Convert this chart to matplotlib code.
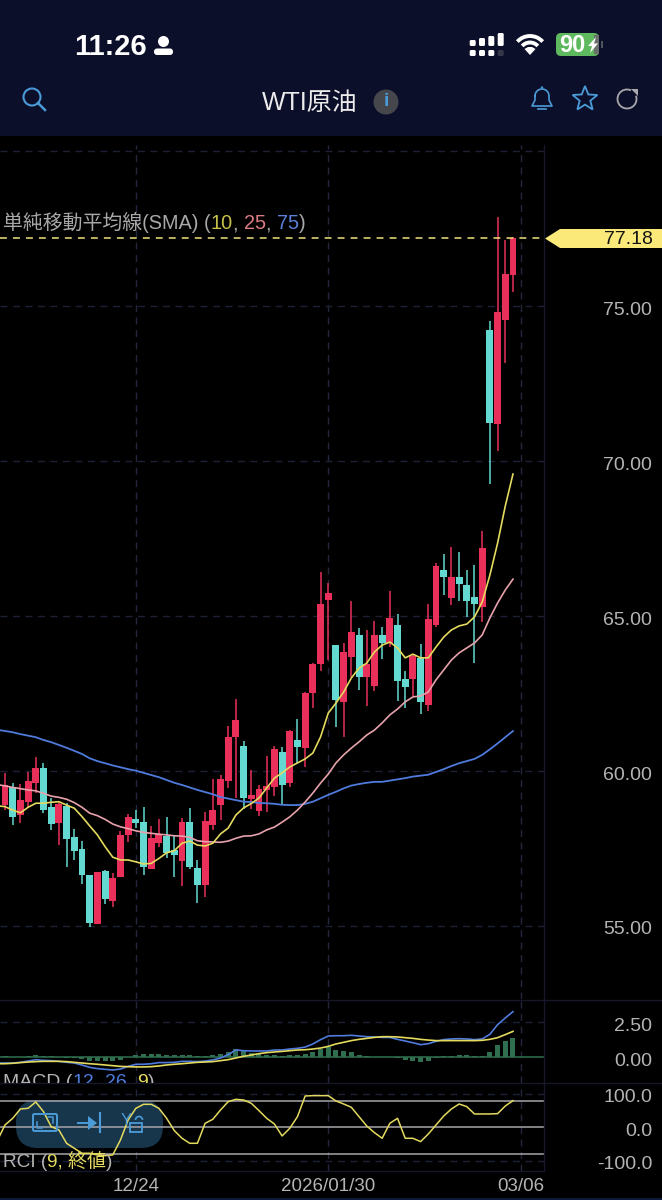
# -*- coding=utf8 =*-

import matplotlib
matplotlib.use("Agg")
import matplotlib.pyplot as plt
from matplotlib.patches import Arc, Circle, FancyBboxPatch, Polygon, Rectangle
from matplotlib.transforms import ScaledTranslation
import numpy as np

plt.rcParams['font.family'] = ['Liberation Sans', 'Noto Sans CJK JP', 'DejaVu Sans']

# daily candles
opens = [58.90, 59.48, 58.58, 59.00, 59.61, 60.10, 58.84, 58.32, 58.87, 57.87,
         57.48, 56.65, 55.06, 56.77, 55.81, 56.58, 57.94, 58.45, 58.35, 56.84,
         57.68, 57.90, 57.45, 57.10, 58.35, 56.87, 56.32, 58.26, 58.90, 59.68,
         61.10, 60.81, 59.10, 58.71, 59.39, 59.48, 60.61, 59.61, 61.00, 60.74,
         62.52, 63.45, 65.52, 64.06, 62.23, 63.68, 64.39, 63.03, 62.74, 64.39,
         64.13, 64.71, 62.97, 62.97, 63.65, 62.13, 64.71, 66.48, 65.58, 66.26,
         66.00, 65.61, 65.29, 74.23, 71.19, 74.55, 76.00]
highs = [59.94, 59.61, 59.58, 59.97, 60.45, 60.26, 59.13, 59.00, 58.97, 58.13,
         57.74, 56.65, 56.74, 56.81, 56.71, 58.06, 58.61, 58.74, 58.84, 58.23,
         58.45, 58.52, 57.90, 58.48, 58.81, 57.13, 58.68, 59.74, 59.87, 61.45,
         62.32, 60.97, 60.03, 59.55, 60.48, 60.81, 60.77, 61.32, 61.68, 62.55,
         63.48, 66.42, 66.06, 64.06, 64.13, 65.48, 64.61, 64.55, 64.84, 64.65,
         65.81, 65.06, 63.23, 63.77, 64.10, 65.39, 66.71, 67.00, 67.23, 67.06,
         66.48, 66.65, 67.74, 74.52, 77.87, 77.13, 77.23]
lows = [58.74, 58.26, 58.32, 58.81, 59.29, 58.65, 58.10, 57.61, 56.90, 57.13,
        56.35, 54.97, 55.06, 55.71, 55.61, 56.58, 57.71, 58.16, 56.65, 56.84,
        57.55, 57.19, 56.58, 56.29, 56.84, 55.74, 55.94, 58.10, 58.42, 59.45,
        59.13, 58.77, 58.77, 58.55, 58.68, 59.19, 58.94, 59.48, 60.26, 60.13,
        62.03, 63.23, 63.58, 61.42, 61.10, 63.03, 62.61, 62.10, 62.58, 63.61,
        64.00, 62.26, 62.03, 62.42, 61.84, 61.94, 64.65, 65.68, 65.35, 65.48,
        64.97, 63.48, 64.81, 69.26, 70.32, 73.16, 75.45]
closes = [59.55, 58.52, 59.06, 59.68, 60.10, 58.74, 58.29, 58.94, 57.81, 57.42,
          56.65, 55.10, 56.74, 55.87, 56.55, 57.94, 58.52, 58.32, 56.90, 57.84,
          57.97, 57.35, 57.29, 58.35, 56.90, 56.32, 58.39, 58.74, 59.74, 61.10,
          61.65, 59.13, 59.23, 59.42, 59.52, 60.71, 59.55, 61.29, 60.77, 62.52,
          63.45, 65.39, 65.74, 62.29, 63.84, 64.48, 63.03, 63.45, 64.39, 64.13,
          64.94, 62.90, 62.71, 63.71, 62.23, 64.90, 66.61, 66.26, 66.26, 66.03,
          65.48, 65.39, 67.19, 71.23, 74.81, 76.03, 77.18]

# the line series start one day before the first whole candle (off the left edge)
sma10 = [58.88, 58.85, 58.74, 58.65, 58.83, 58.96, 58.96, 58.99, 59.01, 58.90, 58.80,
         58.53, 58.23, 57.94, 57.56, 57.22, 57.13, 57.13, 57.07, 57.00, 57.02,
         57.18, 57.36, 57.43, 57.67, 57.74, 57.61, 57.58, 57.67, 57.97, 58.16,
         58.58, 58.81, 58.95, 59.13, 59.45, 59.77, 59.94, 60.13, 60.26, 60.39,
         60.58, 61.10, 61.87, 62.19, 62.55, 63.00, 63.32, 63.48, 63.84, 64.06,
         64.16, 63.97, 63.65, 63.77, 63.65, 63.65, 64.00, 64.32, 64.55, 64.68,
         64.74, 64.97, 65.45, 66.32, 67.35, 68.55, 69.58]
sma25 = [59.56, 59.52, 59.47, 59.43, 59.39, 59.36, 59.28, 59.19, 59.15, 59.09, 58.98,
         58.83, 58.64, 58.56, 58.44, 58.29, 58.20, 58.14, 58.07, 58.02, 57.99,
         57.96, 57.94, 57.91, 57.90, 57.86, 57.75, 57.72, 57.71, 57.70, 57.74,
         57.83, 57.90, 57.91, 57.97, 58.10, 58.19, 58.35, 58.52, 58.74, 59.00,
         59.29, 59.61, 59.90, 60.26, 60.52, 60.74, 60.94, 61.16, 61.32, 61.55,
         61.81, 62.00, 62.23, 62.39, 62.42, 62.55, 62.94, 63.26, 63.58, 63.81,
         63.97, 64.13, 64.39, 64.94, 65.42, 65.84, 66.19]
sma75 = [61.33, 61.29, 61.25, 61.19, 61.14, 61.09, 61.00, 60.93, 60.84, 60.75, 60.65,
         60.55, 60.41, 60.32, 60.25, 60.18, 60.12, 60.06, 60.01, 59.94, 59.87,
         59.80, 59.71, 59.62, 59.55, 59.47, 59.39, 59.32, 59.25, 59.16, 59.11,
         59.06, 59.01, 59.00, 58.97, 58.96, 58.94, 58.91, 58.90, 58.90, 58.94,
         59.01, 59.12, 59.23, 59.33, 59.44, 59.53, 59.58, 59.62, 59.65, 59.65,
         59.69, 59.73, 59.77, 59.82, 59.85, 59.88, 59.97, 60.06, 60.16, 60.25,
         60.32, 60.39, 60.52, 60.70, 60.89, 61.09, 61.29]

macd_line = [-0.43, -0.43, -0.43, -0.38, -0.29, -0.19, -0.24, -0.26, -0.31, -0.38, -0.43,
             -0.57, -0.74, -0.83, -0.88, -0.93, -0.86, -0.67, -0.52, -0.52, -0.48,
             -0.40, -0.40, -0.38, -0.31, -0.31, -0.33, -0.29, -0.21, -0.07, 0.17,
             0.50, 0.45, 0.43, 0.43, 0.43, 0.50, 0.50, 0.57, 0.62, 0.71,
             0.93, 1.24, 1.50, 1.52, 1.52, 1.55, 1.50, 1.45, 1.43, 1.40,
             1.40, 1.26, 1.14, 1.02, 0.88, 0.95, 1.12, 1.24, 1.29, 1.31,
             1.29, 1.24, 1.29, 1.62, 2.31, 2.79, 3.24]
macd_signal = [-0.48, -0.48, -0.45, -0.40, -0.36, -0.33, -0.31, -0.31, -0.31, -0.33, -0.38,
               -0.43, -0.48, -0.52, -0.57, -0.62, -0.67, -0.69, -0.71, -0.71, -0.69,
               -0.64, -0.57, -0.52, -0.48, -0.43, -0.38, -0.36, -0.33, -0.26, -0.19,
               -0.07, 0.05, 0.14, 0.24, 0.31, 0.36, 0.40, 0.45, 0.50, 0.52,
               0.57, 0.64, 0.76, 0.93, 1.05, 1.17, 1.26, 1.33, 1.40, 1.45,
               1.45, 1.43, 1.38, 1.33, 1.26, 1.21, 1.17, 1.17, 1.17, 1.17,
               1.17, 1.17, 1.19, 1.26, 1.38, 1.60, 1.83]
macd_hist = [0.05, 0.02, 0.02, 0.07, 0.14, 0.07, 0.05, 0.00, -0.05, -0.05,
             -0.14, -0.26, -0.31, -0.31, -0.31, -0.19, 0.02, 0.14, 0.19, 0.20,
             0.22, 0.17, 0.14, 0.17, 0.12, 0.05, 0.07, 0.12, 0.20, 0.36,
             0.55, 0.40, 0.29, 0.19, 0.12, 0.14, 0.10, 0.12, 0.12, 0.19,
             0.36, 0.60, 0.74, 0.50, 0.43, 0.38, 0.17, 0.05, 0.02, -0.02,
             -0.02, -0.10, -0.24, -0.30, -0.36, -0.26, -0.05, 0.05, 0.10, 0.14,
             0.12, 0.05, 0.10, 0.36, 0.85, 1.14, 1.38]

rci = [-40, 7, 27, 55, 57, 76, 47, 2, -8, -48, -63,
       -78, -78, -83, -85, -83, -38, 22, 57, 69, 69,
       57, 27, -10, -33, -48, -48, 12, 24, 52, 77,
       84, 82, 72, 50, 27, 10, -26, -3, 32, 94,
       95, 95, 95, 79, 70, 60, 32, 4, -16, -33,
       12, 27, -33, -33, -43, -20, 7, 34, 55, 70,
       62, 40, 40, 40, 41, 64, 80]

date_positions = [17, 42, 67]
date_labels = ['12/24', '2026/01/30', '03/06']
price_ticks = [55, 60, 65, 70, 75]
price_grid = [55, 60, 65, 70, 75, 80]
macd_ticks = [0, 2.5]
rci_ticks = [-100, 0, 100]
rci_levels = [-80, 0, 80]

WIDTH, HEIGHT = 662, 1200
CHART_RIGHT = 544

RED = '#e8305a'
TEAL = '#63d9d1'
YELLOW = '#e4da5e'
PINK = '#e8a2ac'
BLUE = '#4f7bdc'
GRID = '#1e2036'
FRAME = '#15172b'
LABEL = '#b4b4b4'
ICON = '#4a9bd8'
HEADER = '#0c0f29'
TAG = '#fbe97a'


def add_axes_px(x0, y0, x1, y1):
    """pixel box (origin top left) -> axes"""
    ax = fig.add_axes([x0 / WIDTH, 1 - y1 / HEIGHT, (x1 - x0) / WIDTH, (y1 - y0) / HEIGHT])
    ax.set_facecolor('black')
    for spine in ax.spines.values():
        spine.set_visible(False)
    ax.set_xlim(-0.65, 70.03)
    ax.tick_params(length=0, bottom=False, left=False, labelbottom=False, labelleft=False)
    for pos in date_positions:
        ax.axvline(pos, color='#24263e', lw=1, ls=(0, (5, 4)), zorder=1)
    return ax


def right_labels(ax, ticks, fmt):
    ax.yaxis.tick_right()
    ax.set_yticks(ticks)
    ax.set_yticklabels([fmt.format(v) for v in ticks], fontsize=14, color=LABEL, ha='right')
    ax.tick_params(axis='y', length=0, pad=(652 - CHART_RIGHT) * 0.72, labelright=True)
    # the app draws its axis text about 2 px below the level
    shift = ScaledTranslation(0, -2 / 100, fig.dpi_scale_trans)
    for label in ax.get_yticklabels():
        label.set_transform(label.get_transform() + shift)


def colored_text(x, y, pieces, size, clip_ax=None):
    """text in several colours on one baseline"""
    renderer = fig.canvas.get_renderer()
    for s, color in pieces:
        t = over.text(x, y, s, color=color, fontsize=size, va='baseline', ha='left')
        if clip_ax is not None:
            t.set_clip_box(clip_ax.bbox)
            t.set_clip_on(True)
        x += t.get_window_extent(renderer).width


fig = plt.figure(figsize=(WIDTH / 100, HEIGHT / 100), dpi=100, facecolor='black')

# price panel
ax = add_axes_px(0, 145, CHART_RIGHT, 999)
ax.set_ylim(52.645, 80.194)
for level in price_grid:
    ax.axhline(level, color=GRID, lw=1, ls=(0, (5, 4)), zorder=1)
xs = np.arange(len(closes))
xs_line = np.arange(-1, len(closes))
o, h, l, c = map(np.array, (opens, highs, lows, closes))
colors = [RED if c[i] >= o[i] else TEAL for i in xs]
ax.vlines(xs, l, h, colors=colors, lw=1.1, zorder=2)
ax.bar(xs, np.abs(c - o), bottom=np.minimum(o, c), width=0.9, color=colors, zorder=3)
ax.plot(xs_line, sma75, color=BLUE, lw=1.3, zorder=4)
ax.plot(xs_line, sma25, color=PINK, lw=1.2, zorder=4)
ax.plot(xs_line, sma10, color=YELLOW, lw=1.2, zorder=4)
ax.axhline(closes[-1], color='#efe27a', lw=1.1, ls=(0, (4.5, 4)), zorder=5)
right_labels(ax, price_ticks, '{:.2f}')

# MACD
ax_macd = add_axes_px(0, 999, CHART_RIGHT, 1083)
ax_macd.set_ylim(-1.857, 4.143)
ax_macd.axhline(2.5, color=GRID, lw=1, ls=(0, (5, 4)), zorder=1)
ax_macd.axhline(0, color='#2f6f50', lw=1.1, zorder=2)
ax_macd.bar(xs, macd_hist, width=0.65, color='#2f6f50', zorder=2)
ax_macd.plot(xs_line, macd_line, color=BLUE, lw=1.2, zorder=3)
ax_macd.plot(xs_line, macd_signal, color=YELLOW, lw=1.2, zorder=3)
right_labels(ax_macd, macd_ticks, '{:.2f}')

# RCI
ax_rci = add_axes_px(0, 1083, CHART_RIGHT, 1171)
ax_rci.set_ylim(-131.2, 133)
for level in rci_ticks[::2]:
    ax_rci.axhline(level, color=GRID, lw=1, ls=(0, (5, 4)), zorder=1)
for level in rci_levels:
    ax_rci.axhline(level, color='#a6a6aa', lw=1.1, zorder=2)
ax_rci.plot(xs_line, rci, color=YELLOW, lw=1.1, zorder=3)
right_labels(ax_rci, rci_ticks, '{:.1f}')
ax_rci.set_xticks(date_positions)
ax_rci.set_xticklabels(date_labels, fontsize=13.5, color=LABEL)
ax_rci.tick_params(axis='x', length=0, pad=5, labelbottom=True)

# everything else is drawn in pixel coordinates
over = fig.add_axes([0, 0, 1, 1], facecolor='none', zorder=10)
over.set_xlim(0, WIDTH)
over.set_ylim(HEIGHT, 0)
over.axis('off')

# header
over.add_patch(Rectangle((0, 0), WIDTH, 136, color=HEADER, lw=0))
over.add_patch(Rectangle((0, 1198), WIDTH, 2, color='#0d1a3c', lw=0))
over.text(74, 55, '11:26', color='white', fontsize=21, fontweight='bold', va='baseline')
over.add_patch(Circle((163.5, 41.5), 5.5, color='white', lw=0))
over.add_patch(FancyBboxPatch((154, 48.5), 19, 6.5, boxstyle='round,pad=0,rounding_size=3', color='white', lw=0))

# signal
for x, top, dot in zip([472.7, 482, 491.3, 500.7], [40, 38, 36, 33], ['white', 'white', 'white', '#34364a']):
    over.add_patch(FancyBboxPatch((x - 3, top), 6, 46 - top, boxstyle='round,pad=0,rounding_size=1.5', color='white', lw=0))
    over.add_patch(FancyBboxPatch((x - 3, 50), 6, 6, boxstyle='round,pad=0,rounding_size=1.5', color=dot, lw=0))
# wifi
for r in [10.5, 17]:
    over.add_patch(Arc((530, 53), 2 * r, 2 * r, theta1=222, theta2=318, color='white', lw=2.8))
over.add_patch(Polygon([(530, 55), (524.5, 49), (528, 47), (532, 47), (535.5, 49)], color='white', lw=0))
# battery
over.add_patch(FancyBboxPatch((556, 33), 43, 23, boxstyle='round,pad=0,rounding_size=5', color='#5fba5f', lw=0))
over.add_patch(Rectangle((594, 35), 5, 19, color='#6b6f6b', lw=0))
over.add_patch(Rectangle((601, 41), 1.8, 7, color='#50525c', lw=0))
over.text(559, 52, '90', color='white', fontsize=17, fontweight='bold', va='baseline')
over.add_patch(Polygon([(596, 37), (588, 46), (592, 46), (590, 53), (598, 43.5), (594, 43.5)], color='white', lw=0))

# nav bar
over.add_patch(Circle((32, 97), 8.5, fill=False, ec=ICON, lw=1.5))
over.plot([38, 45], [103, 110], color=ICON, lw=1.8)
over.text(262, 110, 'WTI原油', color='#ececec', fontsize=18, va='baseline')
over.add_patch(Circle((386, 102), 12.5, color='#45474c', lw=0))
over.text(386, 102, 'i', color=ICON, fontsize=14, ha='center', va='center', fontweight='bold')
bell_t = np.linspace(np.pi, 2 * np.pi, 20)
bell_x = list(542 + 7 * np.cos(bell_t)) + [549, 552, 532, 535, 535]
bell_y = list(96 + 7 * np.sin(bell_t)) + [100, 106, 106, 100, 96]
over.plot(bell_x, bell_y, color=ICON, lw=1.2)
over.plot([538, 546], [108.5, 108.5], color=ICON, lw=1.2)
over.add_patch(Circle((542, 87.5), 1.2, color=ICON, lw=0))
star_a = np.deg2rad(-90 + 36 * np.arange(10))
star_r = np.array([13, 5.6] * 5)
over.add_patch(Polygon(np.c_[585 + star_r * np.cos(star_a), 99 + star_r * np.sin(star_a)], fill=False, ec=ICON, lw=1.3))
over.add_patch(Arc((627, 99), 19, 19, theta1=-20, theta2=295, color='#a8a8ac', lw=1.3))
over.add_patch(Polygon([(631, 89), (638, 89), (638, 96)], color='#a8a8ac', lw=0))

# frame lines
over.plot([0, WIDTH], [999.5, 999.5], color=FRAME, lw=1)
over.plot([0, WIDTH], [1083, 1083], color=FRAME, lw=1)
over.plot([0, CHART_RIGHT], [1171, 1171], color=FRAME, lw=1)
over.plot([CHART_RIGHT, CHART_RIGHT], [145, 1171], color=FRAME, lw=1)

# price tag
over.add_patch(Polygon([(545, 238.5), (560, 229), (662, 229), (662, 248), (560, 248)], color=TAG, lw=0))
over.text(653, 239, '{:.2f}'.format(closes[-1]), color='#151515', fontsize=14, ha='right', va='center')

# indicator labels
colored_text(3, 229, [('単純移動平均線(SMA) (', '#a8a8a8'), ('10', '#c8c24a'), (', ', '#a8a8a8'),
                      ('25', '#dc7c86'), (', ', '#a8a8a8'), ('75', '#5a80d8'), (')', '#a8a8a8')], 14.3)
colored_text(3, 1087, [('MACD (', '#b4b4b4'), ('12', BLUE), (', ', '#b4b4b4'), ('26', BLUE),
                       (', ', '#b4b4b4'), ('9', YELLOW), (')', '#b4b4b4')], 14, clip_ax=ax_macd)
colored_text(3, 1167, [('RCI (', '#b4b4b4'), ('9, 終値', YELLOW), (')', '#b4b4b4')], 13.7)

# floating tool pill, under the RCI lines
ax_rci.add_patch(FancyBboxPatch((16, 1100), 147, 48, boxstyle='round,pad=0,rounding_size=22',
                                transform=over.transData, fc='#17364c', ec='none', zorder=1.5))
over.add_patch(FancyBboxPatch((33, 1114), 24, 17, boxstyle='round,pad=0,rounding_size=1.5', fill=False, ec=ICON, lw=1.4))
over.plot([37, 37, 42], [1122, 1128, 1128], color=ICON, lw=1.1)
over.plot([48, 53, 53], [1117, 1117, 1123], color=ICON, lw=1.1)
over.plot([78, 90], [1123, 1123], color=ICON, lw=1.4)
over.add_patch(Polygon([(88, 1116), (97, 1123), (88, 1130)], color=ICON, lw=0))
over.plot([100, 100], [1113, 1132], color=ICON, lw=1.5)
over.text(121, 1125, 'Y', color=ICON, fontsize=12, va='baseline')
over.add_patch(Rectangle((130, 1123), 12, 9, fill=False, ec=ICON, lw=1.3))
over.add_patch(Arc((139, 1120), 7, 7, theta1=180, theta2=360, color=ICON, lw=1.2))

fig.savefig('out.png', dpi=100, facecolor=fig.get_facecolor())
